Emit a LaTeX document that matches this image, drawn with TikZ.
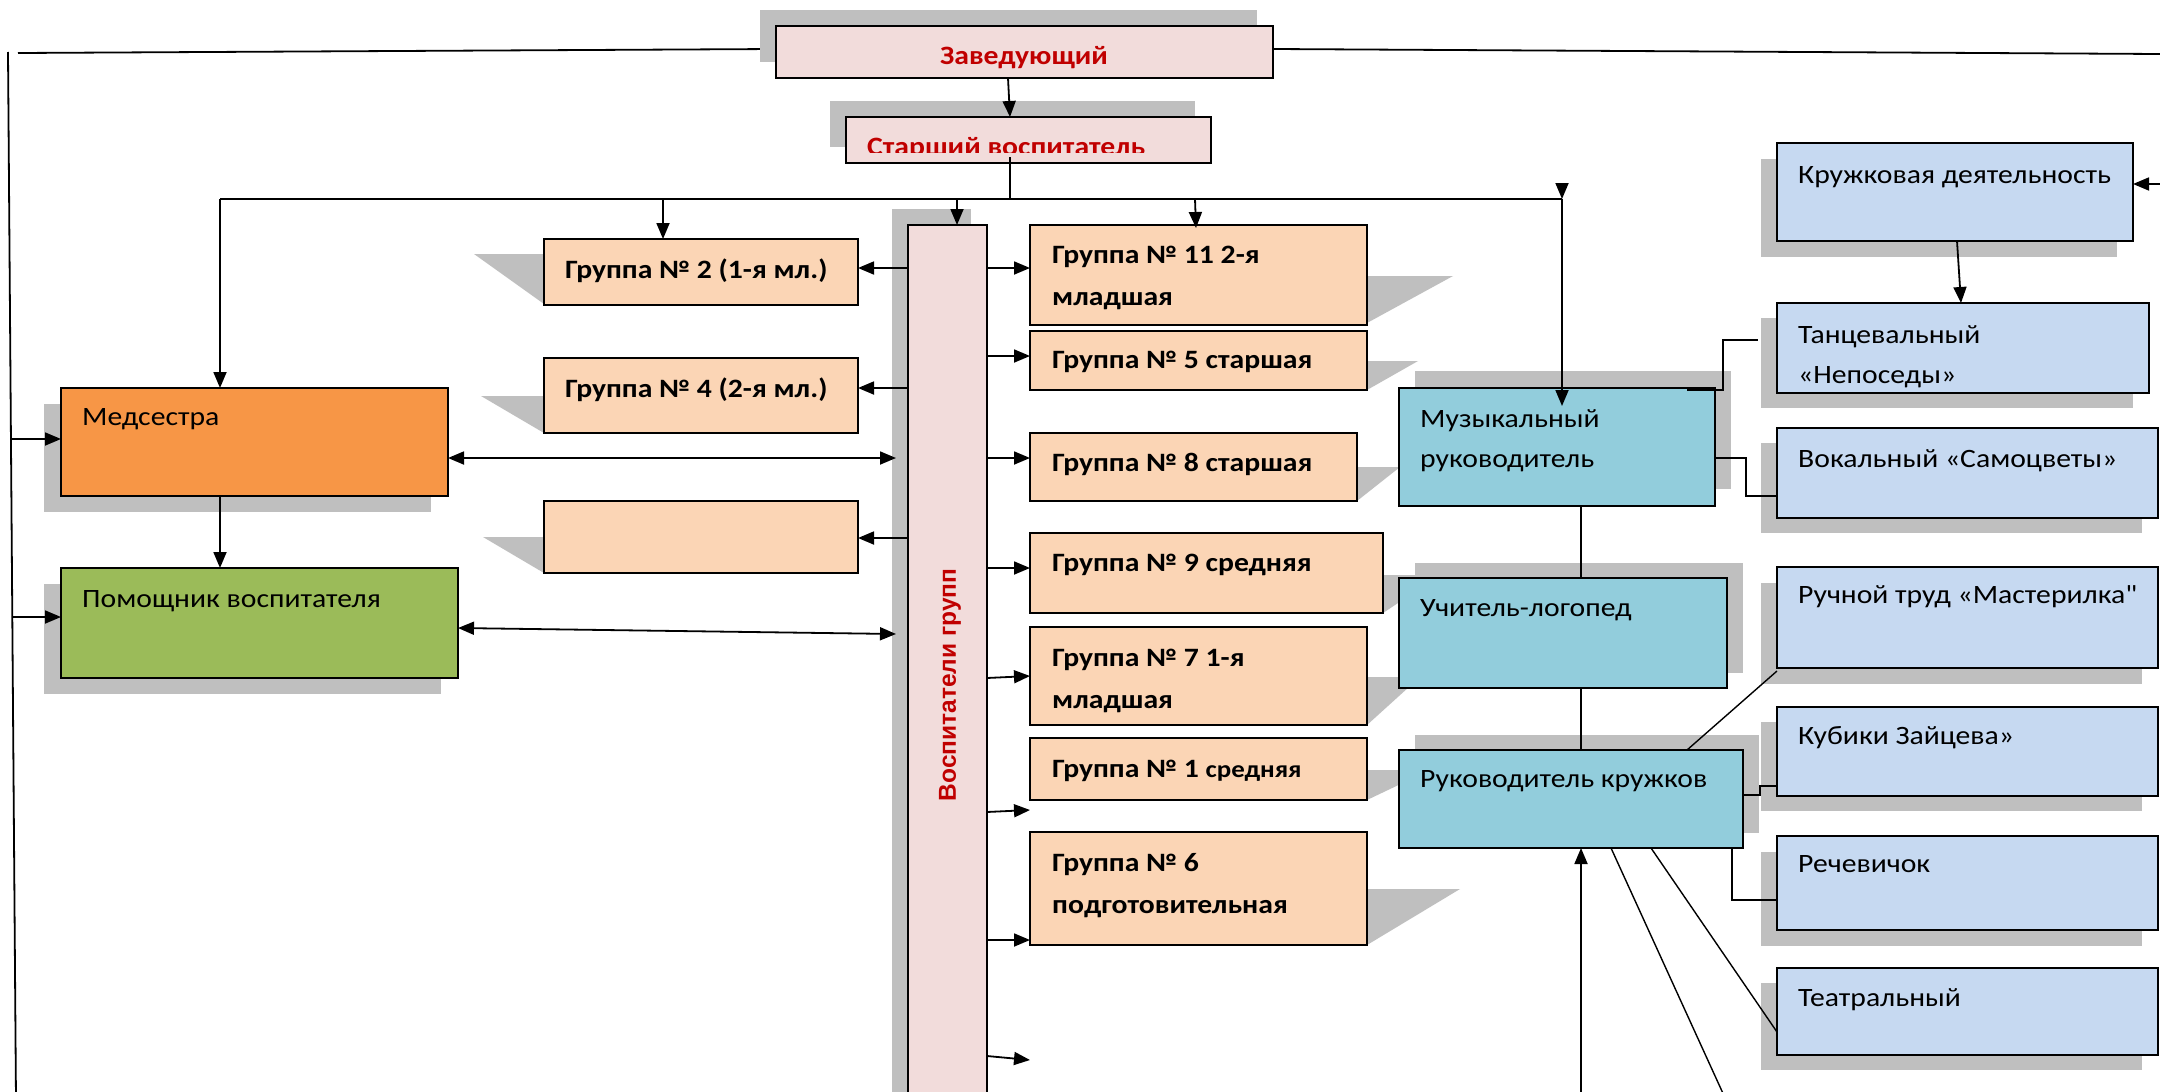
\documentclass[tikz,border=0pt]{standalone}
\usepackage{fontspec}
\setmainfont{Carlito}[FakeStretch=1.12]
\newfontfamily\plainq{Carlito}[FakeStretch=1.12]
\newfontfamily\arialfont{Liberation Sans}
\usetikzlibrary{arrows.meta}
\definecolor{pinkf}{HTML}{F2DCDB}
\definecolor{redt}{HTML}{C00000}
\definecolor{peach}{HTML}{FBD5B5}
\definecolor{orangef}{HTML}{F79646}
\definecolor{greenf}{HTML}{9BBB59}
\definecolor{tealf}{HTML}{92CDDC}
\definecolor{bluef}{HTML}{C6D9F1}
\definecolor{shad}{HTML}{BFBFBF}
% name, x1, y1, x2, y2, shadow dx, shadow dy, fill
\newcommand\shbox[8]{%
  \fill[shad] (#2+#6,#3+#7) rectangle (#4+#6,#5+#7);
  \node[boxst, fill=#8, anchor=north west, minimum width={#4-#2}, minimum height={#5-#3}] (#1) at (#2,#3) {};
}
\newcommand\plainbox[6]{%
  \node[boxst, fill=#6, anchor=north west, minimum width={#4-#2}, minimum height={#5-#3}] (#1) at (#2,#3) {};
}
% perspective shadow: box side x, top y, tip x, bottom y
\newcommand\ptri[4]{\fill[shad] (#1,#2) -- (#3,#2) -- (#1,#4) -- cycle;}
\begin{document}
\begin{tikzpicture}[x=1pt,y=-1pt,
  boxst/.style={draw=black, line width=1.8pt, inner sep=0pt, outer sep=0pt},
  conn/.style={line width=1.8pt, draw=black},
  thin/.style={line width=1.4pt, draw=black},
  arr/.style={conn, -{Triangle[length=16pt,width=13pt]}},
  darr/.style={conn, {Triangle[length=16pt,width=13pt]}-{Triangle[length=16pt,width=13pt]}},
  txt/.style={anchor=base west, inner sep=0pt, font=\fontsize{26.5}{40}\selectfont, align=left},
  gtxt/.style={anchor=base west, inner sep=0pt, font=\bfseries\fontsize{26.5}{42}\selectfont, align=left},
  rtxt/.style={inner sep=0pt, text=redt, font=\bfseries\fontsize{26.5}{40}\selectfont}]
\useasboundingbox (0,0) rectangle (2160,1092);
\clip (0,0) rectangle (2160,1092);
\fill[white] (0,0) rectangle (2160,1092);

% frame lines
\draw[conn] (8,52) -- (16,1100);
\draw[conn] (18,53) -- (776,49);
\draw[conn] (1273,49) -- (2160,54);

% perspective shadows of group boxes
\ptri{544}{254}{474}{304}
\ptri{544}{396}{481}{433}
\ptri{544}{537}{483}{573}
\ptri{1367}{276}{1453}{323}
\ptri{1367}{361}{1418}{390}
\ptri{1357}{467}{1400}{501}
\ptri{1383}{575}{1440}{613}
\ptri{1367}{677}{1420}{725}
\ptri{1367}{770}{1430}{800}
\ptri{1367}{889}{1460}{945}

% top boxes
\shbox{zav}{776}{26}{1273}{78}{-16}{-16}{pinkf}
\shbox{star}{846}{117}{1211}{163}{-16}{-16}{pinkf}
\shbox{vosp}{908}{225}{987}{1110}{-16}{-16}{pinkf}

% left boxes
\shbox{med}{61}{388}{448}{496}{-17}{16}{orangef}
\shbox{pom}{61}{568}{458}{678}{-17}{16}{greenf}

% group boxes
\plainbox{g2}{544}{239}{858}{305}{peach}
\plainbox{g4}{544}{358}{858}{433}{peach}
\plainbox{ge}{544}{501}{858}{573}{peach}
\plainbox{g11}{1030}{225}{1367}{325}{peach}
\plainbox{g5}{1030}{331}{1367}{390}{peach}
\plainbox{g8}{1030}{433}{1357}{501}{peach}
\plainbox{g9}{1030}{533}{1383}{613}{peach}
\plainbox{g7}{1030}{627}{1367}{725}{peach}
\plainbox{g1}{1030}{738}{1367}{800}{peach}
\plainbox{g6}{1030}{832}{1367}{945}{peach}

% specialists
\shbox{mus}{1399}{388}{1715}{506}{16}{-17}{tealf}
\shbox{ucht}{1399}{578}{1727}{688}{16}{-15}{tealf}
\shbox{ruk}{1399}{750}{1743}{848}{16}{-15}{tealf}

% clubs
\shbox{kr}{1777}{143}{2133}{241}{-16}{16}{bluef}
\shbox{tanc}{1777}{303}{2149}{393}{-16}{15}{bluef}
\shbox{vok}{1777}{428}{2158}{518}{-16}{15}{bluef}
\shbox{ruch}{1777}{567}{2158}{668}{-16}{16}{bluef}
\shbox{kub}{1777}{707}{2158}{796}{-16}{15}{bluef}
\shbox{rech}{1777}{836}{2158}{930}{-16}{16}{bluef}
\shbox{teat}{1777}{968}{2158}{1055}{-16}{15}{bluef}

% texts
\node[rtxt, anchor=base] (tzav) at (1024,64) {Заведующий};
\begin{scope}
  \clip (846,117) rectangle (1211,152);
  \node[rtxt, anchor=base west] (tstar) at (867,155) {Старший воспитатель};
\end{scope}
\node[inner sep=0pt, rotate=90, text=redt, font=\arialfont\bfseries\fontsize{24.5}{30}\selectfont] (tvosp) at (950,685) {Воспитатели групп};

\node[txt] (tmed) at (82,425) {Медсестра};
\node[txt] (tpom) at (82,607) {Помощник воспитателя};

% (multi-line texts: the given point is the baseline of the last line)
\node[gtxt] (tg2) at (565,278) {Группа № 2 (1-я мл.)};
\node[gtxt] (tg4) at (565,397) {Группа № 4 (2-я мл.)};
\node[gtxt] (tg11) at (1052,305) {Группа № 11 2-я\\младшая};
\node[gtxt] (tg5) at (1052,368) {Группа № 5 старшая};
\node[gtxt] (tg8) at (1052,471) {Группа № 8 старшая};
\node[gtxt] (tg9) at (1052,571) {Группа № 9 средняя};
\node[gtxt] (tg7) at (1052,708) {Группа № 7 1-я\\младшая};
\node[gtxt] (tg1) at (1052,777) {Группа № 1 {\fontsize{24}{30}\selectfont средняя}};
\node[gtxt] (tg6) at (1052,913) {Группа № 6\\подготовительная};

\node[txt] (tmus) at (1420,467) {Музыкальный\\руководитель};
\node[txt] (tucht) at (1420,616) {Учитель-логопед};
\node[txt] (truk) at (1420,787) {Руководитель кружков};

\node[txt] (tkr) at (1798,183) {Кружковая деятельность};
\node[txt] (ttanc) at (1798,383) {Танцевальный\\«Непоседы»};
\node[txt] (tvok) at (1798,467) {Вокальный «Самоцветы»};
\node[txt] (truch) at (1798,603) {Ручной труд «Мастерилка{\plainq"}};
\node[txt] (tkub) at (1798,744) {Кубики Зайцева»};
\node[txt] (trech) at (1798,872) {Речевичок};
\node[txt] (tteat) at (1798,1006) {Театральный};

% ---- connectors ----
\coordinate (busL) at (220,199);
\coordinate (busS) at (1010,199);
\coordinate (busR) at (1562,199);
\coordinate (busTip) at (1562,183);
\coordinate (tap2) at (663,199);
\coordinate (tapV) at (957,199);
\coordinate (tap11) at (1195,199);
\coordinate (musIn) at (1562,406);

\draw[arr] (1008,78) -- (1010,117);
\draw[conn] ([yshift=6pt]busS |- star.south) -- (busS);
\draw[conn] (busL) -- (busR);
\draw[arr] (busL) -- (busL |- med.north);
\draw[arr] (tap2) -- (tap2 |- g2.north);
\draw[arr] (tapV) -- (tapV |- vosp.north);
\draw[arr] (tap11) -- (1196,228);
\draw[arr] (busTip) -- (busR);
\draw[arr] (busR) -- (musIn);

% left frame into boxes
\coordinate (fm) at (10,439);
\coordinate (fp) at (12,617);
\draw[arr] (fm) -- (fm -| med.west);
\draw[arr] (fp) -- (fp -| pom.west);
\draw[arr] (busL |- med.south) -- (busL |- pom.north);

% double arrows
\coordinate (vm) at (896,458);
\draw[darr] (vm -| med.east) -- (vm);
\draw[darr] (458,628) -- (896,634);

% Воспитатели -> groups (left)
\foreach \yy/\nn in {268/g2, 388/g4, 538/ge}{
  \coordinate (l\nn) at (0,\yy);
  \draw[arr] (vosp.west |- l\nn) -- (\nn.east |- l\nn);
}
% Воспитатели -> groups (right)
\foreach \yy/\nn in {268/g11, 356/g5, 458/g8, 568/g9, 940/g6}{
  \coordinate (r\nn) at (0,\yy);
  \draw[arr] (vosp.east |- r\nn) -- (\nn.west |- r\nn);
}
\draw[arr] (987,678) -- (g7.west |- 0,676);
\coordinate (free1) at (1030,810);
\coordinate (free2) at (1030,1060);
\draw[arr] (987,812) -- (free1);
\draw[arr] (987,1056) -- (free2);

% right part
\coordinate (krIn) at (2160,184);
\draw[arr] (krIn) -- (krIn -| kr.east);
\draw[arr] (1957,241) -- (1961,303);
\draw[thin] (1687,390) -- (1723,390) -- (1723,340) -- (1758,340);
\draw[thin] (1715,458) -- (1746,458) -- (1746,496) -- (1777,496);
\draw[thin] (1581,506) -- (1581,578);
\draw[thin] (1581,688) -- (1581,750);
\draw[thin] (1687,750) -- (1777,671);
\draw[thin] (1743,795) -- (1760,795) -- (1760,786) -- (1777,786);
\draw[thin] (1732,848) -- (1732,900) -- (1777,900);
\draw[thin] (1651,848) -- (1777,1032);
\draw[thin] (1611,848) -- (1726,1100);
\coordinate (rukUp) at (1581,1100);
\draw[arr] (rukUp) -- (rukUp |- ruk.south);
\end{tikzpicture}
\end{document}
